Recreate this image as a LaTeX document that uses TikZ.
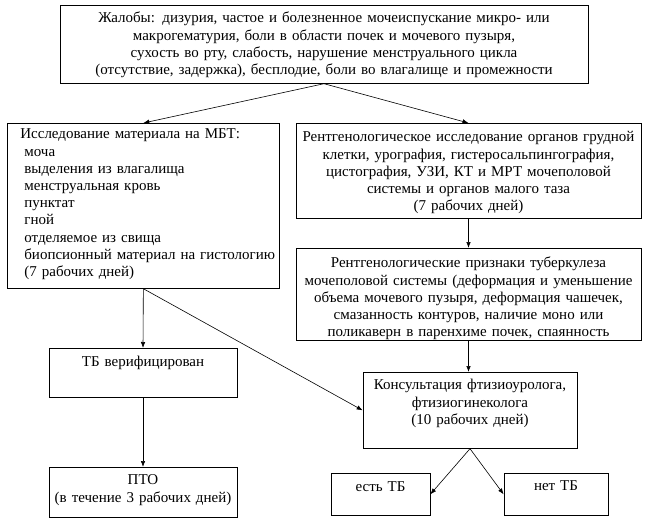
\documentclass[tikz,border=0pt]{standalone}
\usepackage{fontspec}
\setmainfont{Liberation Serif}
\usetikzlibrary{arrows.meta}

\begin{document}
\begin{tikzpicture}[x=1pt, y=-1pt,
  font=\fontsize{15}{17.2}\selectfont,
  >={Latex[length=6pt,width=4.5pt]},
  blk/.style={draw, line width=0.7pt, inner sep=0pt, anchor=north, align=center},
  link/.style={->, line width=0.6pt}]
\useasboundingbox (0,0) rectangle (650,527);

% complaints
\node[blk, text width=528pt, text height=17.5pt, text depth=60.5pt] (zhal) at (324,5)
  {Жалобы: дизурия, частое и болезненное мочеиспускание микро- или\\
   макрогематурия, боли в области почек  и мочевого пузыря,\\
   сухость во рту, слабость, нарушение менструального цикла\\
   (отсутствие,  задержка), бесплодие, боли во влагалище и промежности};

% left branch: smears
\node[blk, anchor=north west, align=left, inner xsep=13pt, text width=246pt,
  text height=15.5pt, text depth=149.5pt] (mbt) at (7,123)
  {Исследование материала на МБТ:\\
   \hspace*{4pt}моча\\
   \hspace*{4pt}выделения из влагалища\\
   \hspace*{4pt}менструальная кровь\\
   \hspace*{4pt}пунктат\\
   \hspace*{4pt}гной\\
   \hspace*{4pt}отделяемое из свища\\
   \mbox{\hspace*{4pt}биопсионный  материал на гистологию}\\
   \hspace*{4pt}(7 рабочих дней)};
\node[blk, text width=188pt, text height=18.5pt, text depth=30.5pt] (tbver) at (143,348)
  {ТБ верифицирован};
\node[blk, text width=188pt, text height=17.5pt, text depth=32.5pt] (pto) at (143,467)
  {ПТО\\(в течение 3 рабочих дней)};

% right branch: imaging
\node[blk, text width=345pt, text height=18.5pt, text depth=76.5pt] (rentg) at (468.5,123)
  {Рентгенологическое исследование органов грудной\\
   клетки,  урография, гистеросальпингография,\\
   цистография,  УЗИ,  КТ и МРТ мочеполовой\\
   системы и органов малого таза\\
   (7 рабочих дней)};
\node[blk, text width=345pt, text height=19.5pt, text depth=72.5pt] (priz) at (468.5,248)
  {Рентгенологические признаки туберкулеза\\
   мочеполовой системы (деформация и уменьшение\\
   объема мочевого пузыря, деформация чашечек,\\
   смазанность контуров, наличие моно или\\
   поликаверн в паренхиме почек, спаянность};
\node[blk, text width=214pt, text height=17.5pt, text depth=58.5pt] (kons) at (470,372)
  {Консультация фтизиоуролога,\\фтизиогинеколога\\(10 рабочих дней)};
\node[blk, text width=99pt, text height=18.5pt, text depth=23.5pt] (est) at (380.5,473)
  {есть ТБ};
\node[blk, text width=104pt, text height=17.5pt, text depth=24.5pt] (net) at (556,473)
  {нет ТБ};

% connectors
\draw[link] (zhal.south) -- (mbt.north);
\draw[link] (zhal.south) -- (rentg.north);
\draw[link] (rentg.south) -- (priz.north);
\draw[link] (priz.south) -- (priz.south |- kons.north);
\draw[link] (mbt.south) -- (tbver.north);
\draw[link] (mbt.south) -- (kons.west);
\draw[link] (tbver.south) -- (pto.north);
\draw[link] (kons.south) -- (est.east);
\draw[link] (kons.south) -- (net.west);

\end{tikzpicture}
\end{document}
